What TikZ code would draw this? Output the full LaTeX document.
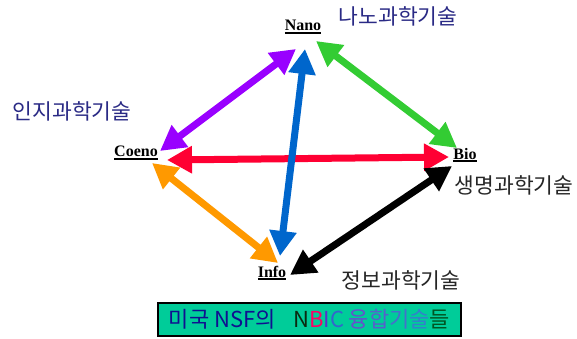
\documentclass[tikz,border=0pt]{standalone}
\usepackage{fontspec}
\setmainfont{Liberation Serif}
\newfontfamily\kr{Noto Sans CJK KR}
\usetikzlibrary{arrows.meta}
\definecolor{cpurple}{HTML}{9900FF}
\definecolor{cblue}{HTML}{0066CC}
\definecolor{cgreen}{HTML}{33CC33}
\definecolor{cred}{HTML}{FF0033}
\definecolor{corange}{HTML}{FF9900}
\definecolor{navy}{HTML}{2A2A85}
\definecolor{boxgreen}{HTML}{00CC99}
\definecolor{tnavy}{HTML}{101090}
\definecolor{tdark}{HTML}{0A2A10}
\definecolor{tpink}{HTML}{FF0066}
\definecolor{tviolet}{HTML}{5533CC}
\definecolor{tblue}{HTML}{3366CC}
\definecolor{tb1}{HTML}{6650CC}
\definecolor{tb2}{HTML}{5560CC}
\definecolor{tb3}{HTML}{4470CC}
\definecolor{tb4}{HTML}{3380CC}
\definecolor{tgreen}{HTML}{005522}
\newcommand\myul[1]{\setbox0=\hbox{#1}\rlap{\rule[-3pt]{\wd0}{2pt}}\box0}
\begin{document}
\begin{tikzpicture}[x=1pt,y=-1pt,
  dbl/.style={line width=7pt,{Triangle[length=25pt,width=26pt]}-{Triangle[length=25pt,width=26pt]}},
  sname/.style={font=\bfseries\fontsize{16}{16}\selectfont, inner sep=0pt},
  kor/.style={font=\kr\fontsize{21.5}{21.5}\selectfont, inner sep=0pt},
  stitle/.style={draw=black, line width=2pt, fill=boxgreen, minimum width=303pt, minimum height=33pt, inner sep=0pt, font=\kr\fontsize{22}{22}\selectfont}]
\useasboundingbox (0,0) rectangle (577,339);
% names
\node[sname] (nano) at (303,27) {\myul{Nano}};
\node[sname] (coeno) at (136,153) {\myul{Coeno}};
\node[sname] (bio) at (465,155) {\myul{Bio}};
\node[sname] (info) at (272,273) {\myul{Info}};
% korean labels
\node[kor, text=navy] (lnano) at (398,16) {나노과학기술};
\node[kor, text=navy] (lcogno) at (72,111) {인지과학기술};
\node[kor, text=black!85] (lbio) at (514,185) {생명과학기술};
\node[kor, text=black!85] (linfo) at (401,280) {정보과학기술};
% arrow end coordinates
\coordinate (pu1) at (160,151); \coordinate (pu2) at (296,49);
\coordinate (gr1) at (316,41);  \coordinate (gr2) at (457,148);
\coordinate (re1) at (167,160); \coordinate (re2) at (449,157);
\coordinate (or1) at (152,163); \coordinate (or2) at (278,263);
\coordinate (bk1) at (452,166); \coordinate (bk2) at (290,275);
\coordinate (bl1) at (305,49);  \coordinate (bl2) at (280,256);
% arrows
\draw[dbl, cpurple] (pu1) -- (pu2);
\draw[dbl, cgreen] (gr1) -- (gr2);
\draw[dbl, cred] (re1) -- (re2);
\draw[dbl, cblue] (bl1) -- (bl2);
\draw[dbl, corange] (or1) -- (or2);
\draw[dbl, black] (bk1) -- (bk2);
% title box
\node[stitle] (title) at (309.5,319.5) {\textcolor{tnavy}{미국 NSF의}\hspace{0.8em}\textcolor{tdark}{N}\textcolor{tpink}{B}\textcolor{tviolet}{I}\textcolor{tblue}{C} \textcolor{tb1}{융}\textcolor{tb2}{합}\textcolor{tb3}{기}\textcolor{tb4}{술}\textcolor{tgreen}{들}};
\end{tikzpicture}
\end{document}
